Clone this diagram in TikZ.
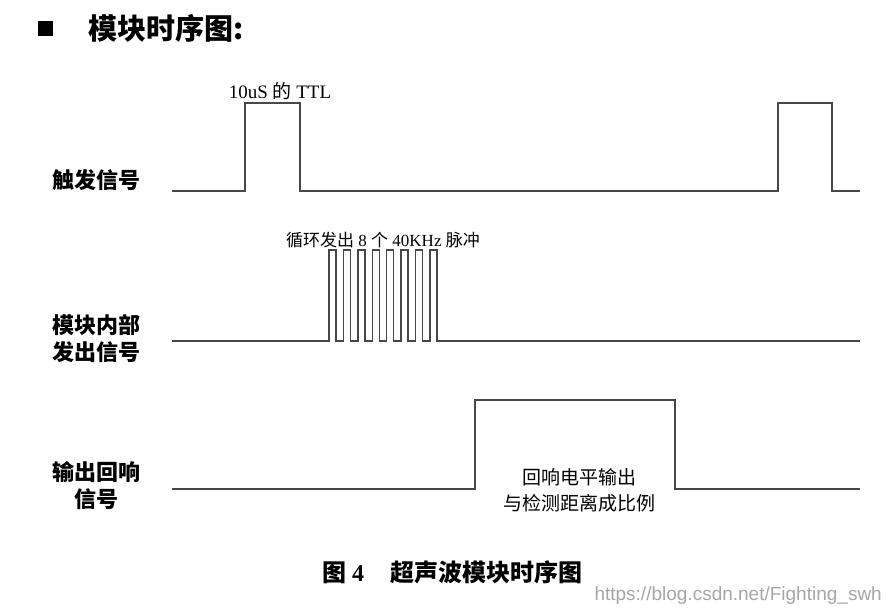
\documentclass[tikz,border=0pt]{standalone}
\usepackage{fontspec}
\setmainfont{Liberation Serif}
\newfontfamily\cjk{Noto Sans CJK SC}
\newfontfamily\wmfont{Liberation Sans}
\usetikzlibrary{positioning}

\begin{document}
\begin{tikzpicture}[x=1pt,y=-1pt,
	wave/.style = {draw=black!72, line width=1.4pt, line join=miter},
	sig label/.style = {font=\cjk\bfseries\fontsize{22}{27}\selectfont, align=center, inner sep=0pt},
	note/.style = {font=\fontsize{17}{26}\selectfont, align=center, inner sep=0pt}]
	\useasboundingbox (0,0) rectangle (889,613);
	
	% title
	\node[fill=black, minimum size=15pt, inner sep=0pt] (mark) at (45,28) {};
	\node[font=\cjk\bfseries\fontsize{29}{32}\selectfont, anchor=west, inner sep=0pt] (title) at (88,28) {模块时序图:};
	
	% signal names
	\node[sig label] (trig) at (96,180) {触发信号};
	\node[sig label] (emit) at (96,339) {模块内部\\发出信号};
	\node[sig label] (echo) at (96,486) {输出回响\\信号};
	
	% trigger
	\draw[wave] (172,191) -- (245,191) -- (245,103) -- (300,103) -- (300,191)
		-- (778,191) -- (778,103) -- (832,103) -- (832,191) -- (860,191);
	\node[note, font=\fontsize{19}{26}\selectfont] (ttl) at (280,91) {10uS {\cjk 的} TTL};
	
	% 8 pulses
	\draw[wave] (172,341) foreach \i in {0,...,7} {
		-- (329+14.4*\i,341) -- (329+14.4*\i,250) -- (336+14.4*\i,250) -- (336+14.4*\i,341)}
		-- (860,341);
	\node[note] (burst) at (383,240) {{\cjk 循环发出} 8 {\cjk 个} 40KHz {\cjk 脉冲}};
	
	% echo
	\node[note, font=\cjk\fontsize{19}{26}\selectfont] (width) at (579,490) {回响电平输出\\与检测距离成比例};
	\draw[wave] (172,489) -- (475,489) -- (475,400) -- (675,400) -- (675,489) -- (860,489);
	
	% caption
	\node[font=\bfseries\fontsize{24}{26}\selectfont, inner sep=0pt] (cap) at (452,572)
		{{\cjk 图} 4\hspace{26pt}{\cjk 超声波模块时序图}};
	\node[font=\wmfont\fontsize{19}{20}\selectfont, text=black!35, anchor=east, inner sep=0pt] (wm) at (882,596)
		{https://blog.csdn.net/Fighting\_swh};
\end{tikzpicture}
\end{document}
